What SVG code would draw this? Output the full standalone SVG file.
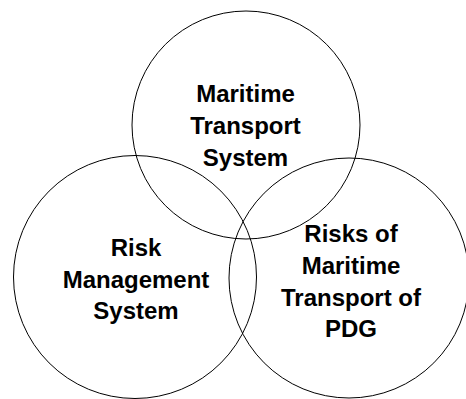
<svg xmlns="http://www.w3.org/2000/svg" width="466" height="399" viewBox="0 0 466 399">
<style>
.c{fill:none;stroke:#000;stroke-width:1}
.t{font-family:"Liberation Sans",Arial,sans-serif;font-weight:bold;font-size:24px;fill:#000;text-anchor:middle}
</style>
<rect width="466" height="399" fill="#fff"/>
<g id="maritime-transport-system">
<circle class="c" cx="246" cy="125" r="114"/>
<text class="t" x="245.5" y="101.5">Maritime</text>
<text class="t" x="245.5" y="133.5">Transport</text>
<text class="t" x="245.5" y="165.5">System</text>
</g>
<g id="risk-management-system">
<circle class="c" cx="135" cy="277" r="121.5"/>
<text class="t" x="136" y="256">Risk</text>
<text class="t" x="136" y="287.5">Management</text>
<text class="t" x="136" y="319">System</text>
</g>
<g id="risks-of-maritime-transport">
<circle class="c" cx="349" cy="278" r="120"/>
<text class="t" x="351" y="241.5">Risks of</text>
<text class="t" x="351" y="273.5">Maritime</text>
<text class="t" x="351" y="305.5">Transport of</text>
<text class="t" x="351" y="337">PDG</text>
</g>
<g id="connectors"></g>
</svg>
